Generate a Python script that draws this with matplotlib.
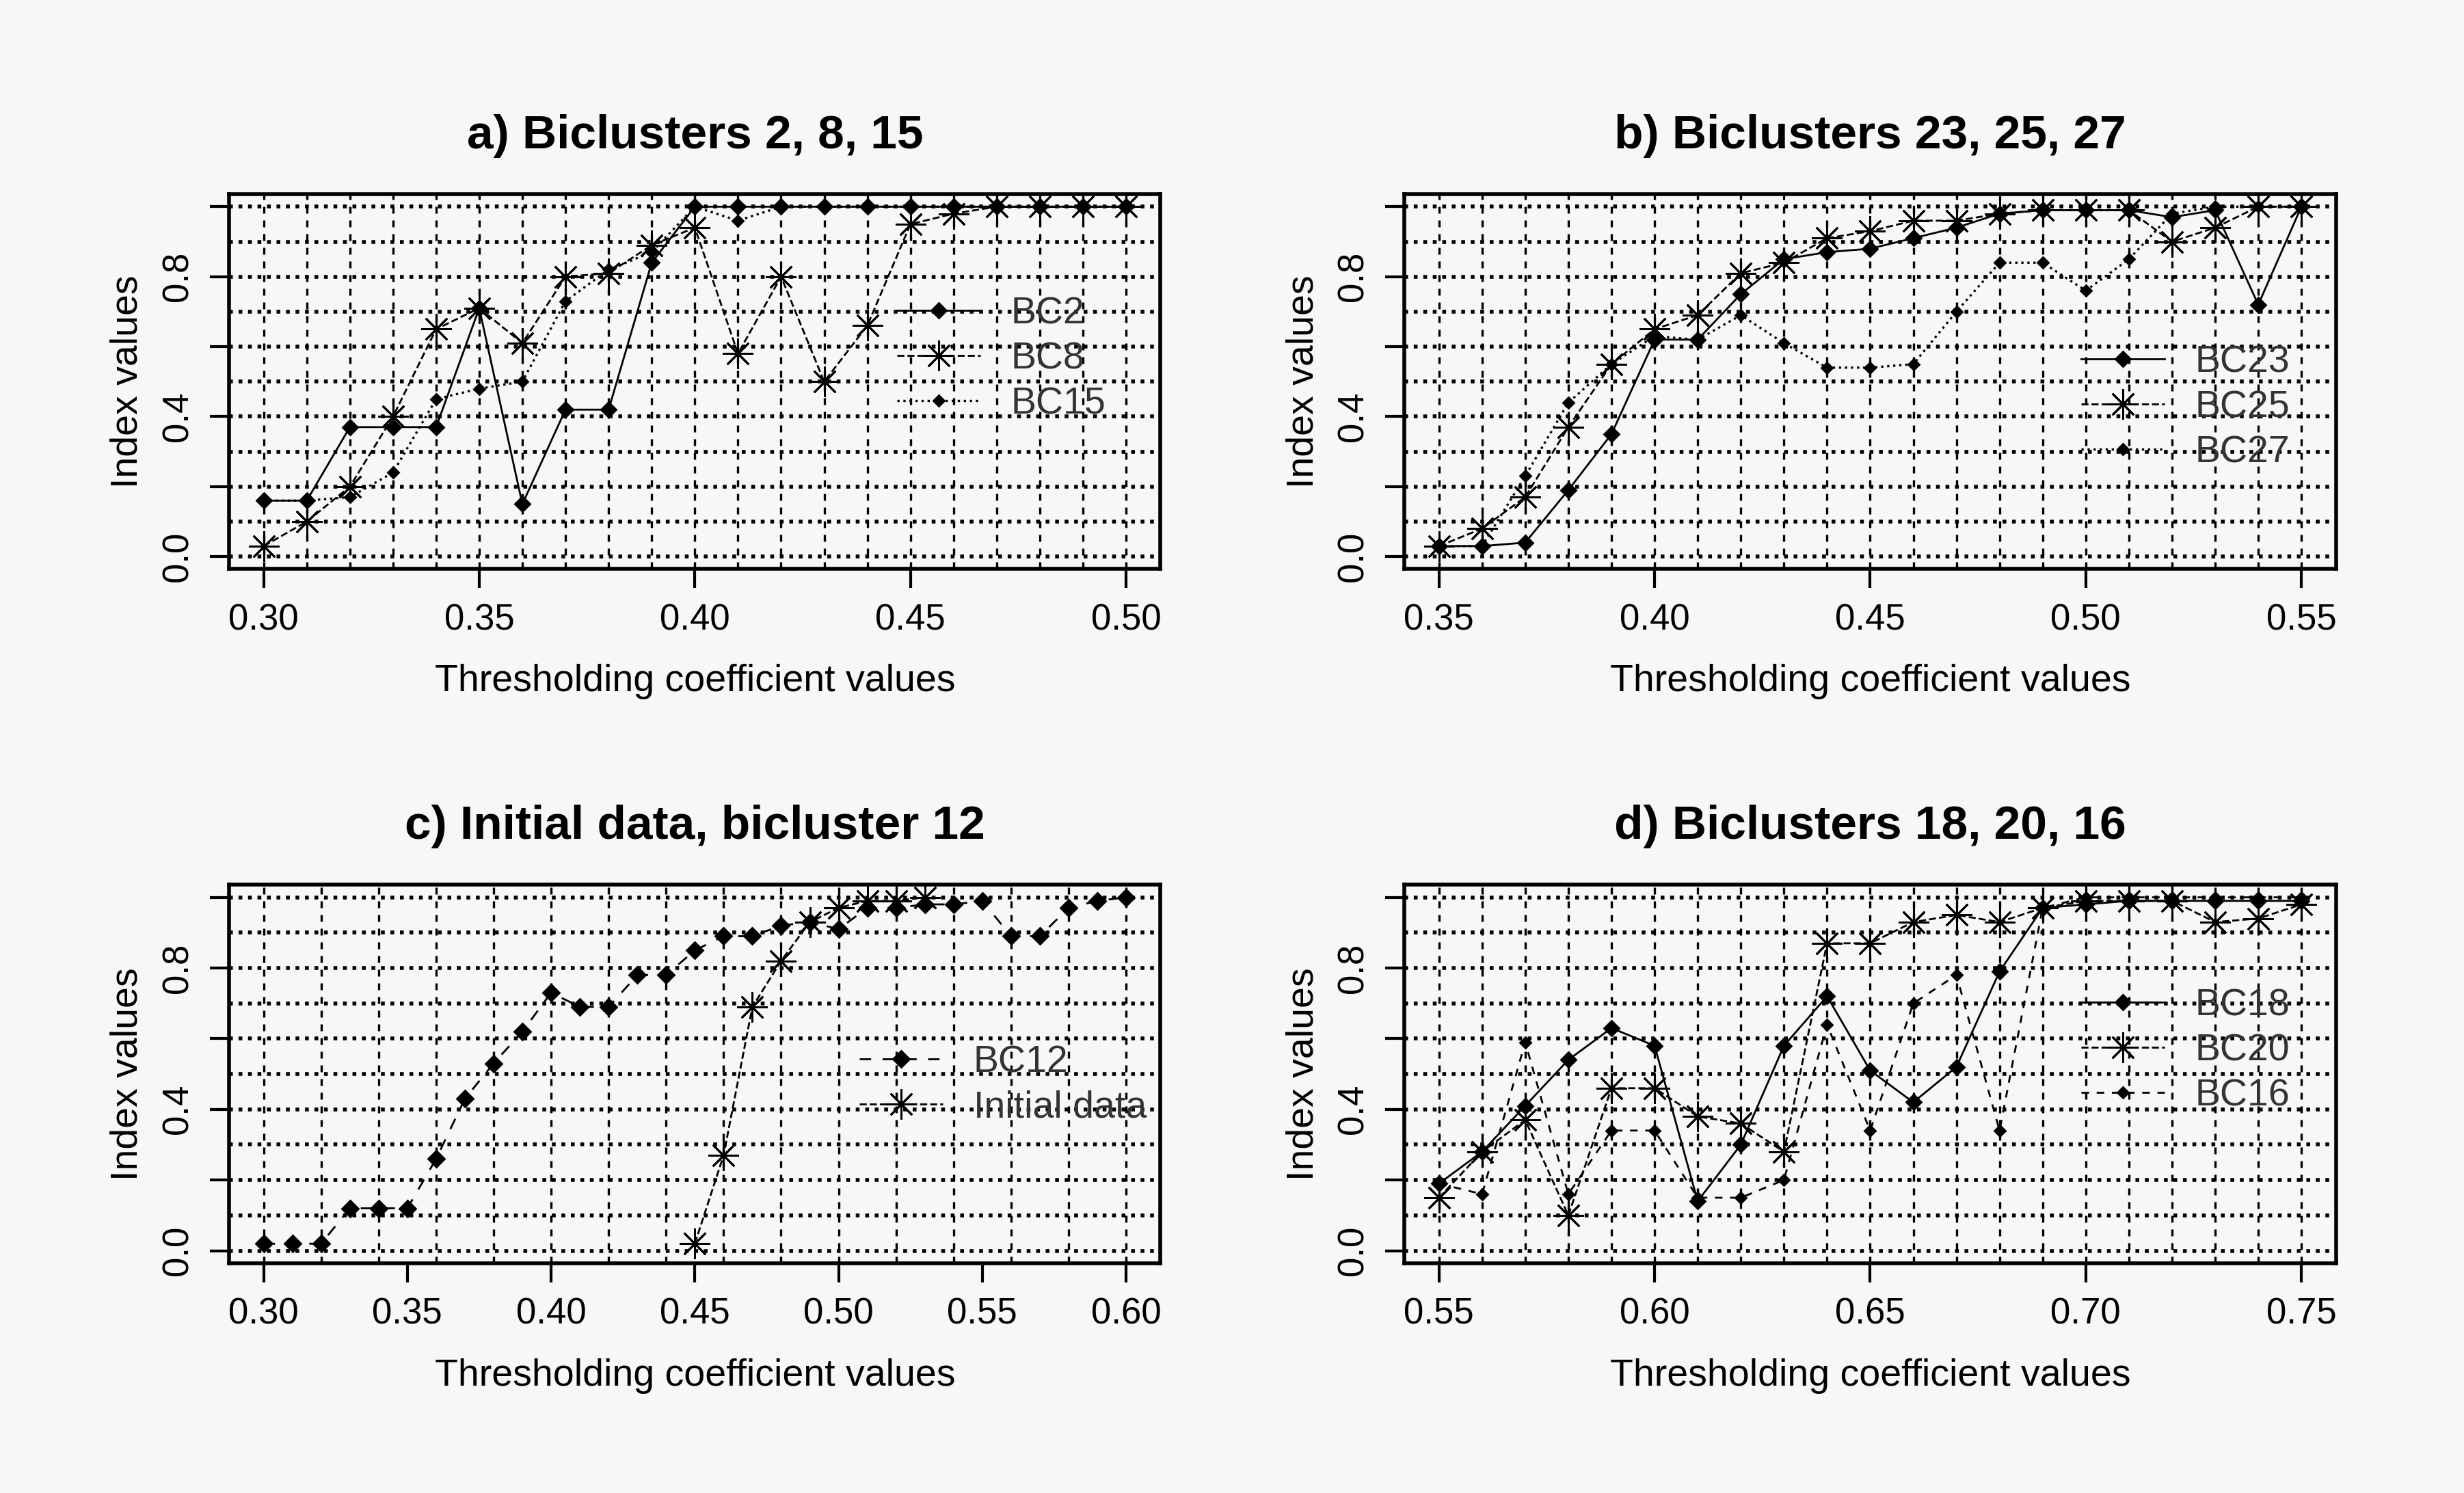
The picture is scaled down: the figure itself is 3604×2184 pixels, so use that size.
import numpy as np
import matplotlib
matplotlib.use("Agg")
import matplotlib.pyplot as plt

# ---- data ----
xa = [round(0.30 + 0.01 * i, 2) for i in range(21)]
bc2 = [0.16, 0.16, 0.37, 0.37, 0.37, 0.71, 0.15, 0.42, 0.42, 0.84, 1.0, 1.0, 1.0, 1.0, 1.0, 1.0, 1.0, 1.0, 1.0, 1.0, 1.0]
bc8 = [0.03, 0.10, 0.20, 0.40, 0.65, 0.71, 0.61, 0.80, 0.81, 0.89, 0.94, 0.58, 0.80, 0.50, 0.66, 0.95, 0.98, 1.0, 1.0, 1.0, 1.0]
bc15 = [0.16, 0.16, 0.17, 0.24, 0.45, 0.48, 0.50, 0.73, 0.82, 0.87, 1.0, 0.96, 1.0, 1.0, 1.0, 1.0, 1.0, 1.0, 1.0, 1.0, 1.0]

xb = [round(0.35 + 0.01 * i, 2) for i in range(21)]
bc23 = [0.03, 0.03, 0.04, 0.19, 0.35, 0.62, 0.62, 0.75, 0.85, 0.87, 0.88, 0.91, 0.94, 0.98, 0.99, 0.99, 0.99, 0.97, 0.99, 0.72, 1.0]
bc25 = [0.03, 0.08, 0.17, 0.37, 0.55, 0.65, 0.69, 0.81, 0.84, 0.91, 0.93, 0.96, 0.96, 0.98, 0.99, 0.99, 0.99, 0.90, 0.94, 1.0, 1.0]
bc27 = [0.03, 0.03, 0.23, 0.44, 0.55, 0.63, 0.62, 0.69, 0.61, 0.54, 0.54, 0.55, 0.70, 0.84, 0.84, 0.76, 0.85, 0.98, 1.0, 1.0, 1.0]

xc = [round(0.30 + 0.01 * i, 2) for i in range(31)]
bc12 = [0.02, 0.02, 0.02, 0.12, 0.12, 0.12, 0.26, 0.43, 0.53, 0.62, 0.73, 0.69, 0.69, 0.78, 0.78, 0.85,
        0.89, 0.89, 0.92, 0.93, 0.91, 0.97, 0.97, 0.98, 0.98, 0.99, 0.89, 0.89, 0.97, 0.99, 1.0]
xc_init = [0.45, 0.46, 0.47, 0.48, 0.49, 0.50, 0.51, 0.52, 0.53]
initial = [0.02, 0.27, 0.69, 0.82, 0.93, 0.97, 0.99, 0.99, 1.0]

xd = [round(0.55 + 0.01 * i, 2) for i in range(21)]
bc18 = [0.19, 0.28, 0.41, 0.54, 0.63, 0.58, 0.14, 0.30, 0.58, 0.72, 0.51, 0.42, 0.52, 0.79, 0.97, 0.98, 0.99, 0.99, 0.99, 0.99, 0.99]
bc20 = [0.15, 0.28, 0.37, 0.10, 0.46, 0.46, 0.38, 0.36, 0.28, 0.87, 0.87, 0.93, 0.95, 0.93, 0.97, 0.99, 0.99, 0.99, 0.93, 0.94, 0.98]
bc16 = [0.19, 0.16, 0.59, 0.16, 0.34, 0.34, 0.15, 0.15, 0.20, 0.64, 0.34, 0.70, 0.78, 0.34, 0.97, 1.0, 1.0, 1.0, 1.0, 1.0, 1.0]

plt.rcParams["font.family"] = "Liberation Sans"
fig = plt.figure(figsize=(18.02, 10.92), dpi=200, facecolor="#f7f7f7")

boxes = {
    "a": [0.093, 0.619, 0.378, 0.251],
    "b": [0.570, 0.619, 0.378, 0.251],
    "c": [0.093, 0.154, 0.378, 0.2535],
    "d": [0.570, 0.154, 0.378, 0.2535],
}

STAR = (8, 2, 0)

def setup(ax, x0, x1, title, gstep):
    span = x1 - x0
    ax.set_xlim(x0 - 0.04 * span, x1 + 0.04 * span)
    ax.set_ylim(-0.035, 1.036)
    ax.set_facecolor("#f7f7f7")
    ax.set_title(title, fontsize=25, fontweight="bold", pad=24)
    ticks = np.arange(x0, x1 + 1e-9, 0.05)
    ax.set_xticks(np.round(ticks, 2))
    ax.set_xticklabels([f"{v:.2f}" for v in ticks], fontsize=19)
    ax.set_yticks([0, 0.2, 0.4, 0.6, 0.8, 1.0])
    ax.set_yticklabels(["0.0", "", "0.4", "", "0.8", ""], fontsize=19, rotation=90, va="center")
    ax.tick_params(length=10, width=1.5, pad=8)
    ax.set_xlabel("Thresholding coefficient values", fontsize=20, labelpad=14)
    ax.set_ylabel("Index values", fontsize=20, labelpad=8)
    for v in np.arange(x0, x1 + 1e-9, gstep):
        ax.axvline(v, color="black", ls=(0, (3, 3)), lw=1.2, zorder=0)
    for v in np.arange(0, 1.01, 0.1):
        ax.axhline(v, color="black", ls=(0, (1, 1.5)), lw=2.0, zorder=0)
    for s in ax.spines.values():
        s.set_linewidth(2)

def leg(ax, loc_xy):
    l = ax.legend(loc="center left", bbox_to_anchor=loc_xy, frameon=False, fontsize=20,
                  handlelength=2.2, labelspacing=0.25, handletextpad=0.8)
    for t in l.get_texts():
        t.set_color("#333333")

ms = 8
ax = fig.add_axes(boxes["a"])
setup(ax, 0.30, 0.50, "a) Biclusters 2, 8, 15", 0.01)
ax.plot(xa, bc2, "k-", marker="D", ms=ms * 0.7, lw=1, label="BC2")
ax.plot(xa, bc8, "k--", marker=STAR, ms=ms * 2, lw=1, label="BC8")
ax.plot(xa, bc15, "k:", marker="D", ms=ms * 0.5, lw=1.2, label="BC15")
leg(ax, (0.68, 0.56))

ax = fig.add_axes(boxes["b"])
setup(ax, 0.35, 0.55, "b) Biclusters 23, 25, 27", 0.01)
ax.plot(xb, bc23, "k-", marker="D", ms=ms * 0.7, lw=1, label="BC23")
ax.plot(xb, bc25, "k--", marker=STAR, ms=ms * 2, lw=1, label="BC25")
ax.plot(xb, bc27, "k:", marker="D", ms=ms * 0.5, lw=1.2, label="BC27")
leg(ax, (0.69, 0.43))

ax = fig.add_axes(boxes["c"])
setup(ax, 0.30, 0.60, "c) Initial data, bicluster 12", 0.02)
ax.plot(xc, bc12, "k", ls=(0, (6, 6)), marker="D", ms=ms * 0.75, lw=1, label="BC12")
ax.plot(xc_init, initial, "k--", marker=STAR, ms=ms * 2, lw=1, label="Initial data")
leg(ax, (0.64, 0.47))

ax = fig.add_axes(boxes["d"])
setup(ax, 0.55, 0.75, "d) Biclusters 18, 20, 16", 0.01)
ax.plot(xd, bc18, "k-", marker="D", ms=ms * 0.7, lw=1, label="BC18")
ax.plot(xd, bc20, "k--", marker=STAR, ms=ms * 2, lw=1, label="BC20")
ax.plot(xd, bc16, "k", ls=(0, (4, 4)), marker="D", ms=ms * 0.5, lw=1, label="BC16")
leg(ax, (0.69, 0.56))

fig.savefig("out.png", dpi=200, facecolor=fig.get_facecolor())
